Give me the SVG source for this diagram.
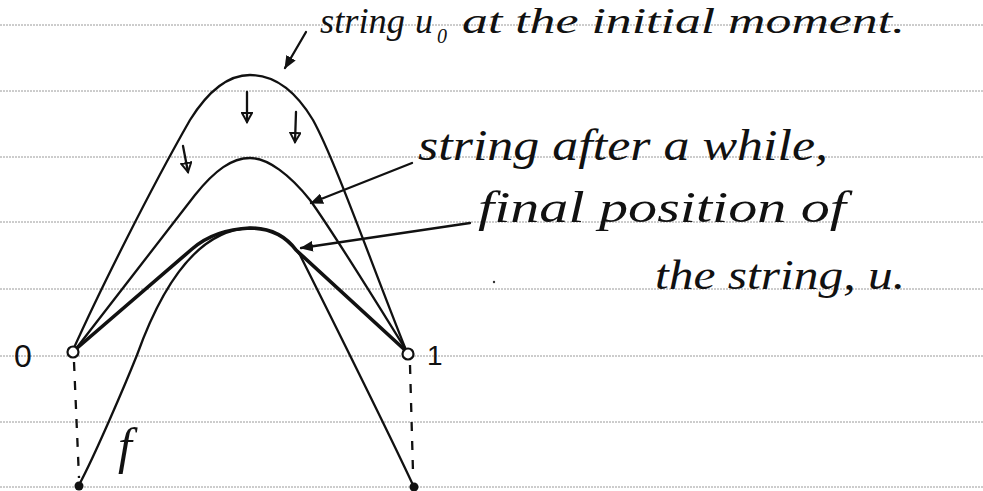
<svg xmlns="http://www.w3.org/2000/svg" width="983" height="491" viewBox="0 0 983 491">
<style>
.rule{stroke:#9a9a9a;stroke-width:1;stroke-dasharray:2 1;fill:none}
.ink{stroke:#111;stroke-width:2.3;fill:none;stroke-linecap:round;stroke-linejoin:round}
.thick{stroke:#111;stroke-width:3.6;fill:none;stroke-linecap:round;stroke-linejoin:round}
.dash{stroke:#111;stroke-width:2.3;fill:none;stroke-dasharray:9 10}
.hw{font-family:"Liberation Serif","DejaVu Serif",serif;font-style:italic;fill:#111}
.num{font-family:"Liberation Sans","DejaVu Sans",sans-serif;fill:#111}
</style>
<defs>
<marker id="solid" viewBox="0 0 12 10" refX="11" refY="5" markerWidth="13" markerHeight="11" markerUnits="userSpaceOnUse" orient="auto">
<path d="M0,0 L12,5 L0,10 z" fill="#111"/>
</marker>
<marker id="open" viewBox="0 0 12 12" refX="10" refY="6" markerWidth="12" markerHeight="12" markerUnits="userSpaceOnUse" orient="auto">
<path d="M1,1 L10,6 L1,11 z" fill="none" stroke="#111" stroke-width="2"/>
</marker>
</defs>
<rect width="983" height="491" fill="#fff"/>
<g id="ruled-lines">
<line class="rule" x1="0" y1="25" x2="983" y2="25"/>
<line class="rule" x1="0" y1="91" x2="983" y2="91"/>
<line class="rule" x1="0" y1="157" x2="983" y2="157"/>
<line class="rule" x1="0" y1="222" x2="983" y2="222"/>
<line class="rule" x1="0" y1="289" x2="983" y2="289"/>
<line class="rule" x1="0" y1="356" x2="983" y2="356"/>
<line class="rule" x1="0" y1="422" x2="983" y2="422"/>
<line class="rule" x1="0" y1="487" x2="983" y2="487"/>
</g>
<g id="string-initial">
<path class="ink" d="M73,350 C100,290 150,190 190,120 C210,88 230,75 250,75 C275,75 295,90 313,120 C335,160 370,260 406,350"/>
</g>
<g id="string-after">
<path class="ink" d="M75,350 C110,305 160,240 195,195 C215,170 232,158 250,158 C268,158 290,175 310,200 C335,235 375,300 406,350"/>
</g>
<g id="obstacle-f">
<path class="ink" d="M79,485 C95,455 125,385 137,355 C155,305 190,230 250,228 C275,228 290,240 300,255 C320,295 385,425 413,485"/>
</g>
<g id="string-final">
<path class="thick" d="M76,349 L192,249 C207,236 226,229 250,228 C273,228 287,238 296,250 L406,351"/>
</g>
<g id="pins">
<circle cx="73" cy="352" r="5.5" fill="#fff" stroke="#111" stroke-width="2.2"/>
<circle cx="408" cy="354" r="5.5" fill="#fff" stroke="#111" stroke-width="2.2"/>
<circle cx="79" cy="486" r="4.5" fill="#111"/>
<circle cx="414" cy="487" r="4.5" fill="#111"/>
<path class="dash" d="M74,362 L79,478"/>
<path class="dash" d="M410,365 L413,472"/>
<circle cx="494" cy="282" r="1.2" fill="#333"/>
</g>
<g id="connectors">
<path class="ink" d="M306,32 L285,68" marker-end="url(#solid)"/>
<path class="ink" d="M412,163 L311,203" marker-end="url(#solid)"/>
<path class="ink" d="M470,223 L301,248" marker-end="url(#solid)"/>
<path class="ink" d="M247,92 L247,122" marker-end="url(#open)"/>
<path class="ink" d="M296,112 L295,142" marker-end="url(#open)"/>
<path class="ink" d="M183,146 L188,172" marker-end="url(#open)"/>
</g>
<g id="labels">
<text class="hw" x="320" y="33" font-size="36" textLength="85" lengthAdjust="spacingAndGlyphs">string</text>
<text class="hw" x="415" y="33" font-size="36">u</text>
<text class="hw" x="437" y="43" font-size="20">0</text>
<text class="hw" x="462" y="33" font-size="36" textLength="443" lengthAdjust="spacingAndGlyphs">at the initial moment.</text>
<text class="hw" x="418" y="160" font-size="44" textLength="410" lengthAdjust="spacingAndGlyphs">string after a while,</text>
<text class="hw" x="478" y="222" font-size="44" textLength="368" lengthAdjust="spacingAndGlyphs">final position of</text>
<text class="hw" x="655" y="289" font-size="42" textLength="250" lengthAdjust="spacingAndGlyphs">the string, u.</text>
<text class="num" x="23" y="367" font-size="32" text-anchor="middle">0</text>
<text class="num" x="427" y="365" font-size="28">1</text>
<text class="hw" x="118" y="463" font-size="50">f</text>
</g>
</svg>
